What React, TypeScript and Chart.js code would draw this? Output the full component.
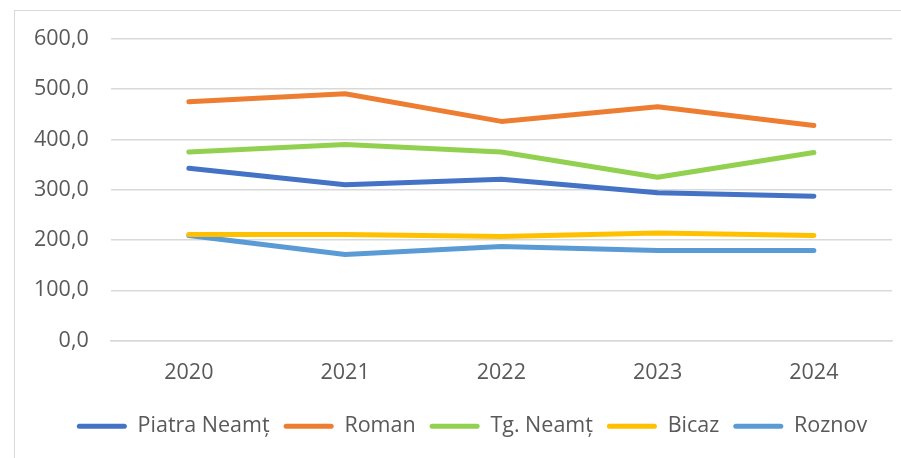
import React, { useEffect, useRef } from "react";
import { Chart, registerables } from "chart.js";

Chart.register(...registerables);

const years = ["2020", "2021", "2022", "2023", "2024"];
const piatraNeamt = [343, 310, 321, 294, 287];
const roman = [475, 491, 436, 465, 428];
const tgNeamt = [375, 390, 375, 325, 374];
const bicaz = [211, 211, 207, 214, 209];
const roznov = [209, 171, 187, 179, 179];

const seriesNames = ["Piatra Neamț", "Roman", "Tg. Neamț", "Bicaz", "Roznov"];
const seriesColors = ["#4472C4", "#ED7D31", "#92D050", "#FFC000", "#5B9BD5"];
const seriesValues = [piatraNeamt, roman, tgNeamt, bicaz, roznov];

const FONT = "'Open Sans', sans-serif";
const FS = 21.5;

const legendShift = {
  id: "legendShift",
  afterLayout(chart: any) {
    if (chart.legend) {
      chart.legend.left += 20;
      chart.legend.right += 20;
    }
  },
};

export default function App() {
  const ref = useRef<HTMLCanvasElement | null>(null);
  useEffect(() => {
    if (!ref.current) return;
    const chart = new Chart(ref.current, {
      type: "line",
      data: {
        labels: years,
        datasets: seriesNames.map((name, i) => ({
          label: name,
          data: seriesValues[i],
          borderColor: seriesColors[i],
          backgroundColor: seriesColors[i],
          borderWidth: 5,
          borderCapStyle: "round" as const,
          borderJoinStyle: "round" as const,
          pointRadius: 0,
          tension: 0,
        })),
      },
      plugins: [legendShift],
      options: {
        animation: false,
        responsive: false,
        maintainAspectRatio: false,
        layout: { padding: { left: 12, right: 9, top: 39, bottom: 11 } },
        plugins: {
          tooltip: { enabled: false },
          legend: {
            position: "bottom",
            labels: {
              boxWidth: 50,
              boxHeight: 5,
              padding: 14,
              color: "#595959",
              font: { family: FONT, size: FS },
              useBorderRadius: true,
              borderRadius: 2.5,
              generateLabels: (c: any) =>
                Chart.defaults.plugins.legend.labels
                  .generateLabels(c)
                  .map((l: any) => ({ ...l, lineWidth: 0, strokeStyle: "rgba(0,0,0,0)", borderRadius: 2.5 })),
            },
          },
        },
        scales: {
          x: {
            offset: true,
            grid: { display: false, drawTicks: false },
            border: { display: true, color: "#D9D9D9", width: 1.5 },
            ticks: { color: "#595959", font: { family: FONT, size: FS }, padding: 19 },
            afterFit: (s: any) => {
              s.height = 61;
            },
          },
          y: {
            min: 0,
            max: 600,
            grid: { color: "#D9D9D9", lineWidth: 1.5, drawTicks: false },
            border: { display: false },
            ticks: {
              stepSize: 100,
              color: "#595959",
              font: { family: FONT, size: FS },
              padding: 22,
              callback: (v: any) => Number(v).toFixed(1).replace(".", ","),
            },
          },
        },
      },
    });
    return () => chart.destroy();
  }, []);
  return (
    <div style={{ position: "fixed", left: 0, top: 0, width: 901, height: 458, background: "#fff", overflow: "hidden" }}>
      <div
        style={{
          position: "absolute",
          left: 14,
          top: 10,
          width: 900,
          height: 460,
          border: "1.5px solid #D9D9D9",
          boxSizing: "border-box",
        }}
      />
      <canvas ref={ref} width={901} height={458} style={{ position: "absolute", left: 0, top: 0 }} />
    </div>
  );
}
